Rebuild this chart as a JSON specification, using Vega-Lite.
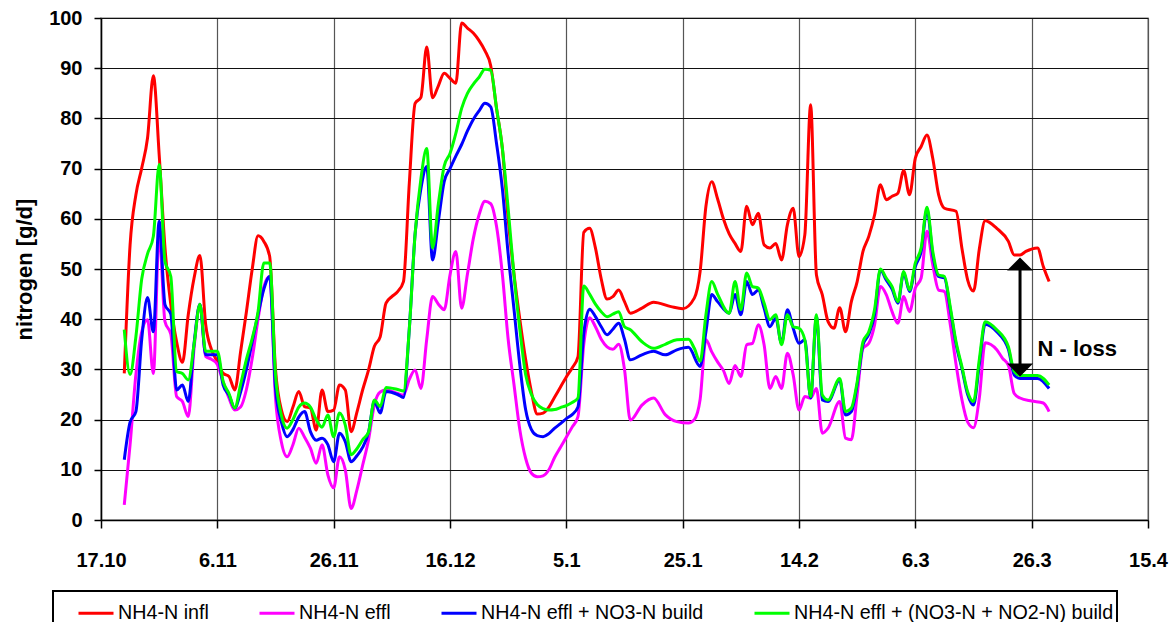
{
  "$schema": "https://vega.github.io/schema/vega-lite/v6.json",
  "width": 1047,
  "height": 502,
  "autosize": {"type": "none"},
  "padding": {"left": 101, "top": 18, "right": 25, "bottom": 102},
  "background": "white",
  "config": {
    "font": "Liberation Sans",
    "view": {"stroke": "#a0a0a0", "strokeWidth": 1.5},
    "axis": {
      "domainColor": "black",
      "domainWidth": 1.5,
      "tickColor": "black",
      "tickWidth": 1.5,
      "labelFont": "Liberation Sans",
      "labelFontWeight": "bold",
      "labelFontSize": 20,
      "labelColor": "black",
      "titleFont": "Liberation Sans",
      "titleFontWeight": "bold",
      "titleColor": "black",
      "grid": true
    },
    "legend": {
      "orient": "none",
      "legendX": -48,
      "legendY": 573,
      "direction": "horizontal",
      "strokeColor": "black",
      "strokeWidth": 2,
      "padding": 3,
      "symbolType": "stroke",
      "symbolSize": 1225,
      "symbolStrokeWidth": 3,
      "labelFont": "Liberation Sans",
      "labelFontSize": 19.7,
      "labelColor": "black",
      "labelLimit": 1000,
      "labelOffset": 3,
      "columnPadding": 44,
      "titleOrient": "left",
      "titlePadding": 21,
      "titleFontSize": 10
    }
  },
  "datasets": {
    "infl": [
      {"d":"2001-10-21","v":29.2},{"d":"2001-10-22","v":54.8},{"d":"2001-10-23","v":64.8},{"d":"2001-10-24","v":70.1},{"d":"2001-10-25","v":76.1},{"d":"2001-10-26","v":88.5},{"d":"2001-10-27","v":72.8},{"d":"2001-10-28","v":54.2},{"d":"2001-10-29","v":42.9},{"d":"2001-10-30","v":35.5},{"d":"2001-10-31","v":31.4},
      {"d":"2001-11-01","v":40.9},{"d":"2001-11-02","v":48.2},{"d":"2001-11-03","v":52.7},{"d":"2001-11-04","v":38.9},{"d":"2001-11-05","v":33.9},{"d":"2001-11-06","v":31.6},{"d":"2001-11-07","v":29.2},{"d":"2001-11-08","v":28.6},{"d":"2001-11-09","v":25.9},{"d":"2001-11-10","v":33.5},{"d":"2001-11-11","v":41.5},{"d":"2001-11-12","v":50.0},{"d":"2001-11-13","v":56.6},{"d":"2001-11-14","v":55.5},{"d":"2001-11-15","v":52.5},{"d":"2001-11-16","v":30},{"d":"2001-11-17","v":22},{"d":"2001-11-18","v":19.6},{"d":"2001-11-19","v":22.5},{"d":"2001-11-20","v":25.6},{"d":"2001-11-21","v":22.6},{"d":"2001-11-22","v":22.3},{"d":"2001-11-23","v":17.9},{"d":"2001-11-24","v":25.9},{"d":"2001-11-25","v":21.6},{"d":"2001-11-26","v":21.9},{"d":"2001-11-27","v":26.9},{"d":"2001-11-28","v":25.9},{"d":"2001-11-29","v":17.6},{"d":"2001-11-30","v":21.5},
      {"d":"2001-12-01","v":26},{"d":"2001-12-02","v":29.9},{"d":"2001-12-03","v":34.6},{"d":"2001-12-04","v":36.5},{"d":"2001-12-05","v":43.2},{"d":"2001-12-06","v":44.5},{"d":"2001-12-07","v":45.5},{"d":"2001-12-08","v":47.5},{"d":"2001-12-09","v":67},{"d":"2001-12-10","v":83},{"d":"2001-12-11","v":84.2},{"d":"2001-12-12","v":94.2},{"d":"2001-12-13","v":84.1},{"d":"2001-12-14","v":86.5},{"d":"2001-12-15","v":89},{"d":"2001-12-16","v":88},{"d":"2001-12-17","v":87},{"d":"2001-12-18","v":99},{"d":"2001-12-19","v":98},{"d":"2001-12-20","v":97},{"d":"2001-12-21","v":95.5},{"d":"2001-12-22","v":93.5},{"d":"2001-12-23","v":90.5},{"d":"2001-12-24","v":82},{"d":"2001-12-25","v":74},{"d":"2001-12-26","v":60},{"d":"2001-12-27","v":49},{"d":"2001-12-28","v":40},{"d":"2001-12-29","v":32},{"d":"2001-12-30","v":25.5},{"d":"2001-12-31","v":21.1},
      {"d":"2002-01-01","v":21.3},{"d":"2002-01-02","v":22.5},{"d":"2002-01-03","v":24.5},{"d":"2002-01-04","v":26.5},{"d":"2002-01-05","v":28.5},{"d":"2002-01-06","v":30.3},{"d":"2002-01-07","v":32.5},{"d":"2002-01-08","v":57.3},{"d":"2002-01-09","v":58.1},{"d":"2002-01-10","v":54.2},{"d":"2002-01-11","v":48},{"d":"2002-01-12","v":44},{"d":"2002-01-13","v":44.5},{"d":"2002-01-14","v":45.8},{"d":"2002-01-15","v":43.5},{"d":"2002-01-16","v":41.2},{"d":"2002-01-18","v":42.2},{"d":"2002-01-20","v":43.4},{"d":"2002-01-23","v":42.5},{"d":"2002-01-25","v":42.1},{"d":"2002-01-27","v":44.2},{"d":"2002-01-28","v":49.5},{"d":"2002-01-29","v":62.5},{"d":"2002-01-30","v":67.4},{"d":"2002-01-31","v":64},
      {"d":"2002-02-01","v":60},{"d":"2002-02-02","v":57},{"d":"2002-02-03","v":55.1},{"d":"2002-02-04","v":53.5},{"d":"2002-02-05","v":62.5},{"d":"2002-02-06","v":58.8},{"d":"2002-02-07","v":61.1},{"d":"2002-02-08","v":54.8},{"d":"2002-02-09","v":54.2},{"d":"2002-02-10","v":55.1},{"d":"2002-02-11","v":51.8},{"d":"2002-02-12","v":58.8},{"d":"2002-02-13","v":62.1},{"d":"2002-02-14","v":52.5},{"d":"2002-02-15","v":56.8},{"d":"2002-02-16","v":82.7},{"d":"2002-02-17","v":48.8},{"d":"2002-02-18","v":44.9},{"d":"2002-02-19","v":39.5},{"d":"2002-02-20","v":38.2},{"d":"2002-02-21","v":42.3},{"d":"2002-02-22","v":37.5},{"d":"2002-02-23","v":43.5},{"d":"2002-02-24","v":47.5},{"d":"2002-02-25","v":53.5},{"d":"2002-02-26","v":56.5},{"d":"2002-02-27","v":60.8},{"d":"2002-02-28","v":66.8},
      {"d":"2002-03-01","v":63.8},{"d":"2002-03-02","v":64.5},{"d":"2002-03-03","v":65.1},{"d":"2002-03-04","v":69.6},{"d":"2002-03-05","v":64.8},{"d":"2002-03-06","v":72.1},{"d":"2002-03-07","v":74.4},{"d":"2002-03-08","v":76.7},{"d":"2002-03-09","v":72},{"d":"2002-03-10","v":64.8},{"d":"2002-03-11","v":62.1},{"d":"2002-03-13","v":61.5},{"d":"2002-03-14","v":54.2},{"d":"2002-03-15","v":47.8},{"d":"2002-03-16","v":45.6},{"d":"2002-03-17","v":54},{"d":"2002-03-18","v":59.6},{"d":"2002-03-20","v":58.1},{"d":"2002-03-22","v":55.5},{"d":"2002-03-23","v":52.8},{"d":"2002-03-24","v":52.8},{"d":"2002-03-25","v":53.5},{"d":"2002-03-27","v":54.2},{"d":"2002-03-28","v":50.5},{"d":"2002-03-29","v":47.5}
    ],
    "effl": [
      {"d":"2001-10-21","v":3.0},{"d":"2001-10-22","v":15},{"d":"2001-10-23","v":29},{"d":"2001-10-24","v":37.5},{"d":"2001-10-25","v":39.9},{"d":"2001-10-26","v":29.2},{"d":"2001-10-27","v":57},{"d":"2001-10-28","v":39.5},{"d":"2001-10-29","v":37},{"d":"2001-10-30","v":24.6},{"d":"2001-10-31","v":23.6},
      {"d":"2001-11-01","v":20.6},{"d":"2001-11-02","v":34.2},{"d":"2001-11-03","v":42.9},{"d":"2001-11-04","v":32.6},{"d":"2001-11-05","v":32},{"d":"2001-11-06","v":31},{"d":"2001-11-07","v":27.5},{"d":"2001-11-08","v":24.3},{"d":"2001-11-09","v":21.9},{"d":"2001-11-10","v":22.5},{"d":"2001-11-11","v":26},{"d":"2001-11-12","v":32.2},{"d":"2001-11-13","v":40},{"d":"2001-11-14","v":46.5},{"d":"2001-11-15","v":48.5},{"d":"2001-11-16","v":24.3},{"d":"2001-11-17","v":15.6},{"d":"2001-11-18","v":12.6},{"d":"2001-11-19","v":15},{"d":"2001-11-20","v":18.3},{"d":"2001-11-21","v":16.5},{"d":"2001-11-22","v":14.3},{"d":"2001-11-23","v":11.3},{"d":"2001-11-24","v":15},{"d":"2001-11-25","v":9},{"d":"2001-11-26","v":6.4},{"d":"2001-11-27","v":12.6},{"d":"2001-11-28","v":10},{"d":"2001-11-29","v":2.3},{"d":"2001-11-30","v":6},
      {"d":"2001-12-01","v":11},{"d":"2001-12-02","v":16},{"d":"2001-12-03","v":23},{"d":"2001-12-04","v":25.5},{"d":"2001-12-05","v":25.9},{"d":"2001-12-07","v":25.2},{"d":"2001-12-08","v":24.9},{"d":"2001-12-09","v":28},{"d":"2001-12-10","v":29.9},{"d":"2001-12-11","v":26.2},{"d":"2001-12-12","v":36},{"d":"2001-12-13","v":44.5},{"d":"2001-12-14","v":43},{"d":"2001-12-15","v":41.9},{"d":"2001-12-16","v":48.8},{"d":"2001-12-17","v":53.5},{"d":"2001-12-18","v":42.2},{"d":"2001-12-19","v":49},{"d":"2001-12-20","v":56},{"d":"2001-12-21","v":60.8},{"d":"2001-12-22","v":63.5},{"d":"2001-12-23","v":63},{"d":"2001-12-24","v":58.5},{"d":"2001-12-25","v":49},{"d":"2001-12-26","v":36},{"d":"2001-12-27","v":27},{"d":"2001-12-28","v":18},{"d":"2001-12-29","v":12.3},{"d":"2001-12-30","v":9.3},{"d":"2001-12-31","v":8.6},
      {"d":"2002-01-01","v":8.8},{"d":"2002-01-02","v":10},{"d":"2002-01-03","v":12.5},{"d":"2002-01-04","v":14.5},{"d":"2002-01-05","v":16.5},{"d":"2002-01-06","v":18.5},{"d":"2002-01-07","v":20.6},{"d":"2002-01-08","v":35},{"d":"2002-01-09","v":40.3},{"d":"2002-01-10","v":38.5},{"d":"2002-01-11","v":36},{"d":"2002-01-12","v":34.5},{"d":"2002-01-13","v":34},{"d":"2002-01-14","v":35},{"d":"2002-01-15","v":30},{"d":"2002-01-16","v":19.9},{"d":"2002-01-18","v":22.9},{"d":"2002-01-20","v":24.3},{"d":"2002-01-22","v":21},{"d":"2002-01-24","v":19.6},{"d":"2002-01-26","v":19.3},{"d":"2002-01-27","v":20},{"d":"2002-01-28","v":24},{"d":"2002-01-29","v":35.9},{"d":"2002-01-30","v":33.5},{"d":"2002-01-31","v":31.5},
      {"d":"2002-02-01","v":29.8},{"d":"2002-02-02","v":27.2},{"d":"2002-02-03","v":30.8},{"d":"2002-02-04","v":28.6},{"d":"2002-02-05","v":34.9},{"d":"2002-02-06","v":35.2},{"d":"2002-02-07","v":38.9},{"d":"2002-02-08","v":34.9},{"d":"2002-02-09","v":26.2},{"d":"2002-02-10","v":28.6},{"d":"2002-02-11","v":26.2},{"d":"2002-02-12","v":33.2},{"d":"2002-02-13","v":28.9},{"d":"2002-02-14","v":21.9},{"d":"2002-02-15","v":24.6},{"d":"2002-02-16","v":24.3},{"d":"2002-02-17","v":26.2},{"d":"2002-02-18","v":17.3},{"d":"2002-02-19","v":18.3},{"d":"2002-02-21","v":23.6},{"d":"2002-02-22","v":16.3},{"d":"2002-02-23","v":16},{"d":"2002-02-24","v":25},{"d":"2002-02-25","v":34.2},{"d":"2002-02-26","v":35.2},{"d":"2002-02-27","v":38.9},{"d":"2002-02-28","v":46.5},
      {"d":"2002-03-01","v":44.9},{"d":"2002-03-02","v":41.5},{"d":"2002-03-03","v":39.2},{"d":"2002-03-04","v":44.5},{"d":"2002-03-05","v":41.5},{"d":"2002-03-06","v":46.2},{"d":"2002-03-07","v":48.2},{"d":"2002-03-08","v":57.5},{"d":"2002-03-09","v":50.8},{"d":"2002-03-10","v":45.8},{"d":"2002-03-11","v":45.5},{"d":"2002-03-12","v":39},{"d":"2002-03-13","v":31},{"d":"2002-03-14","v":24},{"d":"2002-03-15","v":19.5},{"d":"2002-03-16","v":18.4},{"d":"2002-03-17","v":24.3},{"d":"2002-03-18","v":35.3},{"d":"2002-03-20","v":33.9},{"d":"2002-03-21","v":32.2},{"d":"2002-03-22","v":30.8},{"d":"2002-03-23","v":25.2},{"d":"2002-03-24","v":24.3},{"d":"2002-03-26","v":23.7},{"d":"2002-03-28","v":23.3},{"d":"2002-03-29","v":21.6}
    ],
    "no3": [
      {"d":"2001-10-21","v":12.0},{"d":"2001-10-22","v":19.5},{"d":"2001-10-23","v":21.6},{"d":"2001-10-24","v":36},{"d":"2001-10-25","v":44.3},{"d":"2001-10-26","v":37.5},{"d":"2001-10-27","v":59.5},{"d":"2001-10-28","v":42.9},{"d":"2001-10-29","v":41},{"d":"2001-10-30","v":25.9},{"d":"2001-10-31","v":26.9},
      {"d":"2001-11-01","v":23.6},{"d":"2001-11-02","v":35.2},{"d":"2001-11-03","v":43},{"d":"2001-11-04","v":32.9},{"d":"2001-11-05","v":32.9},{"d":"2001-11-06","v":32.9},{"d":"2001-11-07","v":26.9},{"d":"2001-11-08","v":24.9},{"d":"2001-11-09","v":22.3},{"d":"2001-11-10","v":25.5},{"d":"2001-11-11","v":30},{"d":"2001-11-12","v":35.5},{"d":"2001-11-13","v":41},{"d":"2001-11-14","v":46},{"d":"2001-11-15","v":48.5},{"d":"2001-11-16","v":26.2},{"d":"2001-11-17","v":19.6},{"d":"2001-11-18","v":16.6},{"d":"2001-11-19","v":18},{"d":"2001-11-20","v":20.5},{"d":"2001-11-21","v":21.6},{"d":"2001-11-22","v":17.6},{"d":"2001-11-23","v":15.9},{"d":"2001-11-24","v":16.3},{"d":"2001-11-25","v":15},{"d":"2001-11-26","v":11.6},{"d":"2001-11-27","v":17.3},{"d":"2001-11-28","v":15.6},{"d":"2001-11-29","v":11.6},{"d":"2001-11-30","v":12.8},
      {"d":"2001-12-01","v":14.5},{"d":"2001-12-02","v":17.5},{"d":"2001-12-03","v":23.6},{"d":"2001-12-04","v":21.3},{"d":"2001-12-05","v":25.6},{"d":"2001-12-07","v":25},{"d":"2001-12-08","v":24.4},{"d":"2001-12-09","v":38},{"d":"2001-12-10","v":57},{"d":"2001-12-11","v":66},{"d":"2001-12-12","v":70.4},{"d":"2001-12-13","v":51.8},{"d":"2001-12-14","v":59.5},{"d":"2001-12-15","v":67.4},{"d":"2001-12-16","v":70},{"d":"2001-12-17","v":72.5},{"d":"2001-12-18","v":74.8},{"d":"2001-12-19","v":77.5},{"d":"2001-12-20","v":79.8},{"d":"2001-12-21","v":81.5},{"d":"2001-12-22","v":83},{"d":"2001-12-23","v":82.3},{"d":"2001-12-24","v":75},{"d":"2001-12-25","v":66},{"d":"2001-12-26","v":53},{"d":"2001-12-27","v":42},{"d":"2001-12-28","v":30.9},{"d":"2001-12-29","v":22},{"d":"2001-12-30","v":18},{"d":"2001-12-31","v":16.8},
      {"d":"2002-01-01","v":16.6},{"d":"2002-01-02","v":17.2},{"d":"2002-01-03","v":18.3},{"d":"2002-01-04","v":19.2},{"d":"2002-01-05","v":20.2},{"d":"2002-01-06","v":21},{"d":"2002-01-07","v":22.5},{"d":"2002-01-08","v":37.2},{"d":"2002-01-09","v":42},{"d":"2002-01-10","v":40.5},{"d":"2002-01-11","v":38.5},{"d":"2002-01-12","v":36.9},{"d":"2002-01-13","v":38},{"d":"2002-01-14","v":39.2},{"d":"2002-01-15","v":36},{"d":"2002-01-16","v":31.9},{"d":"2002-01-18","v":32.9},{"d":"2002-01-20","v":33.6},{"d":"2002-01-22","v":32.9},{"d":"2002-01-24","v":33.9},{"d":"2002-01-26","v":34.4},{"d":"2002-01-28","v":30.6},{"d":"2002-01-29","v":37.5},{"d":"2002-01-30","v":44.9},{"d":"2002-01-31","v":43.5},
      {"d":"2002-02-02","v":41.2},{"d":"2002-02-03","v":44.9},{"d":"2002-02-04","v":40.9},{"d":"2002-02-05","v":47.5},{"d":"2002-02-06","v":44.9},{"d":"2002-02-07","v":45.8},{"d":"2002-02-08","v":42.2},{"d":"2002-02-09","v":38.5},{"d":"2002-02-10","v":40.2},{"d":"2002-02-11","v":35.2},{"d":"2002-02-12","v":41.9},{"d":"2002-02-13","v":38.2},{"d":"2002-02-14","v":35.2},{"d":"2002-02-15","v":35.9},{"d":"2002-02-16","v":24.3},{"d":"2002-02-17","v":40.5},{"d":"2002-02-18","v":23.9},{"d":"2002-02-19","v":23.6},{"d":"2002-02-21","v":27.9},{"d":"2002-02-22","v":20.9},{"d":"2002-02-23","v":21.6},{"d":"2002-02-24","v":27},{"d":"2002-02-25","v":34.9},{"d":"2002-02-26","v":37},{"d":"2002-02-27","v":41},{"d":"2002-02-28","v":49.8},
      {"d":"2002-03-01","v":47.8},{"d":"2002-03-02","v":46},{"d":"2002-03-03","v":43.2},{"d":"2002-03-04","v":49.2},{"d":"2002-03-05","v":45.5},{"d":"2002-03-06","v":50.5},{"d":"2002-03-07","v":53.5},{"d":"2002-03-08","v":61.8},{"d":"2002-03-09","v":52.8},{"d":"2002-03-10","v":48.5},{"d":"2002-03-11","v":48.2},{"d":"2002-03-12","v":42},{"d":"2002-03-13","v":35},{"d":"2002-03-14","v":30.2},{"d":"2002-03-15","v":25},{"d":"2002-03-16","v":22.9},{"d":"2002-03-17","v":31},{"d":"2002-03-18","v":39},{"d":"2002-03-20","v":37.5},{"d":"2002-03-22","v":34},{"d":"2002-03-23","v":28.9},{"d":"2002-03-24","v":28.2},{"d":"2002-03-27","v":28.2},{"d":"2002-03-29","v":26.2}
    ],
    "tot": [
      {"d":"2001-10-21","v":37.9},{"d":"2001-10-22","v":29},{"d":"2001-10-23","v":36.5},{"d":"2001-10-24","v":48},{"d":"2001-10-25","v":53},{"d":"2001-10-26","v":56.5},{"d":"2001-10-27","v":70.8},{"d":"2001-10-28","v":51.5},{"d":"2001-10-29","v":48.5},{"d":"2001-10-30","v":29.6},{"d":"2001-10-31","v":29.2},
      {"d":"2001-11-01","v":27.9},{"d":"2001-11-02","v":35},{"d":"2001-11-03","v":43},{"d":"2001-11-04","v":33.6},{"d":"2001-11-05","v":33.6},{"d":"2001-11-06","v":33.6},{"d":"2001-11-07","v":27.6},{"d":"2001-11-08","v":25.2},{"d":"2001-11-09","v":22.3},{"d":"2001-11-10","v":27},{"d":"2001-11-11","v":32},{"d":"2001-11-12","v":36.2},{"d":"2001-11-13","v":41.5},{"d":"2001-11-14","v":51.2},{"d":"2001-11-15","v":51.2},{"d":"2001-11-16","v":28.9},{"d":"2001-11-17","v":20.9},{"d":"2001-11-18","v":18.3},{"d":"2001-11-19","v":20},{"d":"2001-11-20","v":22.5},{"d":"2001-11-21","v":23.3},{"d":"2001-11-22","v":22.5},{"d":"2001-11-23","v":20},{"d":"2001-11-24","v":18.5},{"d":"2001-11-25","v":20.9},{"d":"2001-11-26","v":16.6},{"d":"2001-11-27","v":21.3},{"d":"2001-11-28","v":18.9},{"d":"2001-11-29","v":13},{"d":"2001-11-30","v":14.2},
      {"d":"2001-12-01","v":16},{"d":"2001-12-02","v":17.5},{"d":"2001-12-03","v":23.9},{"d":"2001-12-04","v":22.6},{"d":"2001-12-05","v":26.4},{"d":"2001-12-07","v":26},{"d":"2001-12-08","v":25.7},{"d":"2001-12-09","v":38},{"d":"2001-12-10","v":57},{"d":"2001-12-11","v":68},{"d":"2001-12-12","v":74},{"d":"2001-12-13","v":54.2},{"d":"2001-12-14","v":63},{"d":"2001-12-15","v":70.5},{"d":"2001-12-16","v":73},{"d":"2001-12-17","v":77},{"d":"2001-12-18","v":82},{"d":"2001-12-19","v":85},{"d":"2001-12-20","v":86.8},{"d":"2001-12-21","v":88.2},{"d":"2001-12-22","v":89.8},{"d":"2001-12-23","v":89.6},{"d":"2001-12-24","v":82},{"d":"2001-12-25","v":74.1},{"d":"2001-12-26","v":62},{"d":"2001-12-27","v":48.8},{"d":"2001-12-28","v":38},{"d":"2001-12-29","v":29},{"d":"2001-12-30","v":25},{"d":"2001-12-31","v":23},
      {"d":"2002-01-01","v":22.2},{"d":"2002-01-02","v":21.9},{"d":"2002-01-03","v":22},{"d":"2002-01-04","v":22.4},{"d":"2002-01-05","v":22.8},{"d":"2002-01-06","v":23.4},{"d":"2002-01-07","v":24.3},{"d":"2002-01-08","v":46.6},{"d":"2002-01-09","v":45},{"d":"2002-01-10","v":43},{"d":"2002-01-11","v":41.5},{"d":"2002-01-12","v":40.5},{"d":"2002-01-13","v":41},{"d":"2002-01-14","v":41.5},{"d":"2002-01-15","v":38.5},{"d":"2002-01-16","v":37.9},{"d":"2002-01-18","v":35.5},{"d":"2002-01-20","v":34.2},{"d":"2002-01-22","v":35},{"d":"2002-01-24","v":35.9},{"d":"2002-01-26","v":36},{"d":"2002-01-27","v":34.2},{"d":"2002-01-28","v":31.6},{"d":"2002-01-29","v":40.9},{"d":"2002-01-30","v":47.5},{"d":"2002-01-31","v":45},
      {"d":"2002-02-02","v":41.2},{"d":"2002-02-03","v":47.5},{"d":"2002-02-04","v":41.9},{"d":"2002-02-05","v":49.2},{"d":"2002-02-06","v":46.5},{"d":"2002-02-07","v":46.2},{"d":"2002-02-08","v":43.2},{"d":"2002-02-09","v":39.9},{"d":"2002-02-10","v":40.9},{"d":"2002-02-11","v":34.9},{"d":"2002-02-12","v":40.9},{"d":"2002-02-13","v":38.5},{"d":"2002-02-14","v":38.2},{"d":"2002-02-15","v":35.9},{"d":"2002-02-16","v":24.6},{"d":"2002-02-17","v":40.9},{"d":"2002-02-18","v":24.9},{"d":"2002-02-19","v":23.9},{"d":"2002-02-21","v":28.2},{"d":"2002-02-22","v":21.6},{"d":"2002-02-23","v":22.3},{"d":"2002-02-24","v":27.5},{"d":"2002-02-25","v":35.5},{"d":"2002-02-26","v":37.5},{"d":"2002-02-27","v":42},{"d":"2002-02-28","v":50},
      {"d":"2002-03-01","v":48.2},{"d":"2002-03-02","v":46.5},{"d":"2002-03-03","v":43.5},{"d":"2002-03-04","v":49.5},{"d":"2002-03-05","v":45.8},{"d":"2002-03-06","v":51.2},{"d":"2002-03-07","v":54.2},{"d":"2002-03-08","v":62.3},{"d":"2002-03-09","v":53.5},{"d":"2002-03-10","v":48.8},{"d":"2002-03-11","v":48.5},{"d":"2002-03-12","v":42.5},{"d":"2002-03-13","v":35.5},{"d":"2002-03-14","v":30.6},{"d":"2002-03-15","v":25.5},{"d":"2002-03-16","v":23.6},{"d":"2002-03-17","v":32},{"d":"2002-03-18","v":39.5},{"d":"2002-03-20","v":37.9},{"d":"2002-03-22","v":34.5},{"d":"2002-03-23","v":29.6},{"d":"2002-03-24","v":28.8},{"d":"2002-03-27","v":28.8},{"d":"2002-03-29","v":26.9}
    ],
    "arrow": [{"d":"2002-03-24","v":50.5,"v2":30.5}],
    "headUp": [{"d":"2002-03-24","v":52.3}],
    "headDown": [{"d":"2002-03-24","v":28.6}],
    "note": [{"d":"2002-03-27","v":34.1,"t":"N - loss"}]
  },
  "encoding": {
    "x": {
      "field": "d",
      "type": "temporal",
      "title": null,
      "scale": {
        "type": "utc",
        "domain": [
          {"year": 2001, "month": 10, "date": 17, "utc": true},
          {"year": 2002, "month": 4, "date": 15, "utc": true}
        ]
      },
      "axis": {
        "values": [
          {"year": 2001, "month": 10, "date": 17, "utc": true},
          {"year": 2001, "month": 11, "date": 6, "utc": true},
          {"year": 2001, "month": 11, "date": 26, "utc": true},
          {"year": 2001, "month": 12, "date": 16, "utc": true},
          {"year": 2002, "month": 1, "date": 5, "utc": true},
          {"year": 2002, "month": 1, "date": 25, "utc": true},
          {"year": 2002, "month": 2, "date": 14, "utc": true},
          {"year": 2002, "month": 3, "date": 6, "utc": true},
          {"year": 2002, "month": 3, "date": 26, "utc": true},
          {"year": 2002, "month": 4, "date": 15, "utc": true}
        ],
        "format": "%-d.%-m",
        "tickSize": 8,
        "labelPadding": 22,
        "labelFlush": false,
        "labelOverlap": false,
        "gridColor": "#555555",
        "gridWidth": 1.2
      }
    },
    "y": {
      "field": "v",
      "type": "quantitative",
      "scale": {"domain": [0, 100]},
      "axis": {
        "title": "nitrogen [g/d]",
        "values": [0, 10, 20, 30, 40, 50, 60, 70, 80, 90, 100],
        "tickSize": 7,
        "labelPadding": 12,
        "titleFontSize": 22,
        "titlePadding": 12,
        "gridColor": "#111111",
        "gridWidth": 1
      }
    }
  },
  "layer": [
    {
      "data": {"name": "infl"},
      "mark": {"type": "line", "interpolate": "monotone", "strokeWidth": 3},
      "encoding": {
        "color": {
          "datum": "NH4-N infl",
          "type": "nominal",
          "scale": {
            "domain": ["NH4-N infl", "NH4-N effl", "NH4-N effl + NO3-N build", "NH4-N effl + (NO3-N + NO2-N) build"],
            "range": ["#ff0000", "#ff00ff", "#0000ff", "#00ff00"]
          },
          "legend": {
            "title": " ",
            "labelExpr": "datum.label == 'NH4-N effl + (NO3-N + NO2-N) build' ? datum.label + '     ' : datum.label"
          }
        }
      }
    },
    {
      "data": {"name": "effl"},
      "mark": {"type": "line", "interpolate": "monotone", "strokeWidth": 3},
      "encoding": {"color": {"datum": "NH4-N effl", "type": "nominal"}}
    },
    {
      "data": {"name": "no3"},
      "mark": {"type": "line", "interpolate": "monotone", "strokeWidth": 3},
      "encoding": {"color": {"datum": "NH4-N effl + NO3-N build", "type": "nominal"}}
    },
    {
      "data": {"name": "tot"},
      "mark": {"type": "line", "interpolate": "monotone", "strokeWidth": 3},
      "encoding": {"color": {"datum": "NH4-N effl + (NO3-N + NO2-N) build", "type": "nominal"}}
    },
    {
      "data": {"name": "arrow"},
      "mark": {"type": "rule", "strokeWidth": 3, "color": "black"},
      "encoding": {"y2": {"field": "v2"}}
    },
    {
      "data": {"name": "headUp"},
      "mark": {"type": "point", "shape": "M0,0L-1,1L1,1Z", "filled": true, "size": 676, "color": "black", "opacity": 1, "strokeWidth": 0}
    },
    {
      "data": {"name": "headDown"},
      "mark": {"type": "point", "shape": "M0,0L-1,-1L1,-1Z", "filled": true, "size": 676, "color": "black", "opacity": 1, "strokeWidth": 0}
    },
    {
      "data": {"name": "note"},
      "mark": {"type": "text", "align": "left", "baseline": "middle", "font": "Liberation Sans", "fontSize": 22, "fontWeight": "bold", "color": "black"},
      "encoding": {"text": {"field": "t"}}
    }
  ]
}
